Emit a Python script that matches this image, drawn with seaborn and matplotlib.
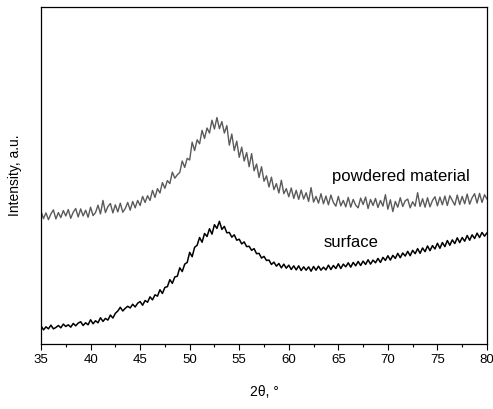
import numpy as np
import pandas as pd
import seaborn as sns
import matplotlib.pyplot as plt

# 2theta grid, 0.25 deg steps from 35 to 80
two_theta = np.linspace(35, 80, 181)

# intensity (arbitrary units), 4 points per degree
powdered = [
    39.4, 37.2, 38.9, 36.9,  38.6, 39.8, 37.1, 39.0,  37.5, 39.6, 38.0, 39.9,
    37.3, 39.1, 40.2, 37.7,  40.1, 38.0, 39.7, 37.6,  40.6, 38.1, 39.0, 41.2,
    38.6, 42.6, 39.0, 40.8,  41.7, 38.9, 41.3, 39.2,  41.8, 39.1, 40.2, 42.0,
    39.7, 42.3, 40.4, 42.6,  41.1, 43.8, 42.0, 44.0,  42.6, 45.6, 43.5, 46.1,
    44.8, 47.9, 46.2, 48.5,  47.6, 51.0, 49.2, 50.2,  50.9, 54.3, 52.4, 55.1,
    54.6, 59.9, 57.4, 60.6,  59.4, 63.4, 61.0, 64.1,  62.6, 66.4, 63.8, 67.2,
    63.9, 66.0, 62.6, 64.8,  59.0, 62.3, 57.4, 60.2,  55.4, 58.4, 54.3, 56.8,
    52.6, 56.5, 51.4, 53.4,  49.4, 52.6, 48.3, 49.9,  46.6, 49.5, 45.8, 47.6,
    44.8, 48.6, 44.6, 46.1,  43.7, 46.3, 43.2, 45.6,  42.9, 45.7, 43.0, 44.9,
    42.3, 46.4, 42.1, 43.8,  41.8, 44.6, 41.6, 43.9,  41.3, 44.2, 42.0, 40.9,
    43.8, 41.0, 42.6, 40.7,  43.5, 40.6, 42.9, 41.2,  40.4, 43.3, 41.4, 43.6,
    40.2, 42.9, 41.1, 43.2,  40.5, 42.6, 40.9, 44.3,  40.0, 42.8, 39.3, 42.3,
    40.6, 43.4, 40.8, 42.5,  43.0, 40.4, 42.2, 40.9,  44.9, 40.8, 43.1, 40.6,
    43.4, 40.7, 42.6, 43.7,  41.0, 43.6, 41.3, 43.9,  41.1, 44.0, 42.6, 41.2,
    44.2, 41.4, 43.8, 41.6,  44.5, 41.5, 43.4, 44.6,  41.8, 44.7, 42.0, 44.3,
    43.0,
]

surface = [
    5.4, 4.2, 5.1, 4.5,  5.6, 4.5, 4.9, 5.5,  4.8, 5.9, 5.2, 5.7,
    5.0, 6.1, 5.4, 6.2,  6.6, 5.5, 6.3, 5.7,  7.2, 6.0, 6.9, 6.3,
    7.8, 6.7, 7.6, 7.1,  8.6, 7.7, 9.1, 9.8,  10.9, 9.8, 10.6, 11.2,
    10.7, 11.8, 11.0, 12.1,  12.6, 11.5, 12.9, 12.4,  14.0, 13.1, 14.6, 14.2,
    16.1, 15.0, 16.8, 17.0,  19.1, 18.0, 19.9, 20.1,  22.6, 21.5, 23.7, 24.2,
    27.2, 25.9, 28.7, 29.3,  31.6, 30.2, 32.8, 31.9,  34.2, 32.6, 35.4, 34.3,
    36.4, 34.0, 34.9, 33.0,  33.1, 31.7, 32.4, 30.8,  31.1, 29.7, 30.3, 28.9,
    29.0, 27.8, 28.3, 26.8,  26.9, 25.5, 26.0, 24.8,  24.9, 23.6, 24.3, 23.1,
    23.9, 22.6, 23.7, 22.5,  23.4, 22.1, 23.2, 22.0,  23.2, 21.8, 22.9, 21.9,
    22.9, 21.6, 23.0, 21.9,  23.1, 21.9, 22.8, 22.0,  23.4, 22.1, 23.3, 22.4,
    23.8, 22.4, 23.7, 22.9,  24.1, 22.8, 24.2, 23.2,  24.5, 23.3, 24.6, 23.6,
    25.0, 23.7, 24.9, 24.1,  25.4, 24.2, 25.7, 24.8,  26.2, 24.9, 26.3, 25.4,
    26.9, 25.6, 27.0, 26.1,  27.5, 26.2, 27.8, 26.8,  28.3, 26.9, 28.5, 27.4,
    29.1, 27.7, 29.2, 28.2,  29.9, 28.4, 30.1, 28.9,  30.7, 29.3, 30.9, 29.8,
    31.5, 30.1, 31.6, 30.5,  32.2, 30.8, 32.4, 31.3,  32.9, 31.6, 33.1, 32.0,
    33.0,
]

sns.set_theme(style="ticks")
plt.rcParams['font.family'] = ['Liberation Sans', 'DejaVu Sans']

df = pd.DataFrame({"two_theta": two_theta, "powdered": powdered, "surface": surface})

fig = plt.figure(figsize=(4.93, 4.09), dpi=100)
ax = fig.add_axes([0.0832, 0.1589, 0.9046, 0.8240])

sns.lineplot(data=df, x="two_theta", y="powdered", color="#5a5a5a", lw=1.0, ax=ax)
sns.lineplot(data=df, x="two_theta", y="surface", color="black", lw=1.1, ax=ax)

ax.text(64.4, 49.6, "powdered material", fontsize=12, va="center", color="black")
ax.text(63.5, 30.0, "surface", fontsize=12, va="center", color="black")

ax.set_xlim(35, 80)
ax.set_ylim(0, 100)
ax.set_xticks(range(35, 81, 5))
ax.set_xticks(np.arange(37.5, 80, 5), minor=True)
ax.set_yticks([])
ax.tick_params(axis="x", which="major", direction="out", length=4, width=0.8,
               labelsize=9.5, pad=3, top=False, colors="black")
ax.tick_params(axis="x", which="minor", direction="out", length=2.5, width=0.8,
               top=False, colors="black")
for s in ax.spines.values():
    s.set_linewidth(0.9)
    s.set_color("black")

ax.set_xlabel("2θ, °", fontsize=10, labelpad=14, color="black")
ax.set_ylabel("Intensity, a.u.", fontsize=10, labelpad=14, color="black")

plt.savefig("out.png", dpi=100)
plt.close()
